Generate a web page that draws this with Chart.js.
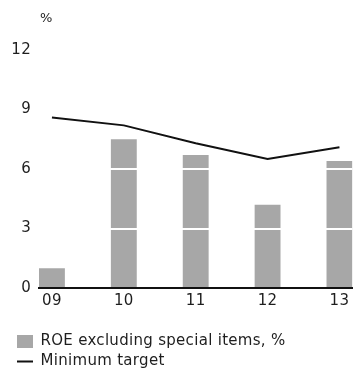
<!DOCTYPE html>
<html>
<head>
<meta charset="utf-8">
<script src="https://cdn.jsdelivr.net/npm/chart.js@4"></script>
<style>
  html, body { margin: 0; padding: 0; background: #fff; overflow: hidden; }
  #wrap { position: relative; width: 353px; height: 379px; }
</style>
</head>
<body>
<div id="wrap"><canvas id="c"></canvas></div>
<script>
// Years on the x axis and the two series plotted against them
const years = ['09', '10', '11', '12', '13'];
const roeExSpecial = [1.0, 7.5, 6.7, 4.2, 6.4];
const minimumTarget = [8.6, 8.2, 7.3, 6.5, 7.1];
const yTicks = [0, 3, 6, 9, 12];
const seriesNames = ['ROE excluding special items, %', 'Minimum target'];
const unitLabel = '%';

const FONT = 'DejaVu Sans';
const TEXT = '#1e1e1e';
const BAR = '#a7a7a7';
const LINE = '#111111';

const toPoints = arr => arr.map((v, i) => ({ x: i, y: v }));

// Slightly looser letter spacing for all chart text
const spacingPlugin = {
  id: 'letterSpacing',
  beforeDraw(chart) {
    chart.ctx.letterSpacing = '0.3px';
  }
};

// Small "%" caption above the value axis
const unitPlugin = {
  id: 'unitLabel',
  afterDraw(chart) {
    const { ctx, chartArea } = chart;
    ctx.save();
    ctx.font = `13px "${FONT}"`;
    ctx.fillStyle = TEXT;
    ctx.textAlign = 'left';
    ctx.textBaseline = 'middle';
    ctx.fillText(unitLabel, chartArea.left + 1, chartArea.top - 31);
    ctx.restore();
  }
};

new Chart(document.getElementById('c'), {
  type: 'bar',
  data: {
    datasets: [
      {
        type: 'line',
        label: seriesNames[1],
        data: toPoints(minimumTarget),
        borderColor: LINE,
        borderWidth: 2,
        pointRadius: 0,
        tension: 0,
        fill: false,
        order: 1
      },
      {
        type: 'bar',
        label: seriesNames[0],
        data: toPoints(roeExSpecial),
        backgroundColor: BAR,
        barPercentage: 0.36,
        categoryPercentage: 1,
        order: 2
      }
    ]
  },
  options: {
    responsive: true,
    maintainAspectRatio: false,
    animation: false,
    layout: { padding: { left: 12, top: 50, right: 0, bottom: 0 } },
    plugins: {
      tooltip: { enabled: false },
      legend: {
        position: 'bottom',
        align: 'start',
        labels: {
          font: { family: FONT, size: 15 },
          color: TEXT,
          padding: 5,
          usePointStyle: true,
          pointStyleWidth: 16,
          boxHeight: 13,
          generateLabels: () => [
            { text: seriesNames[0], fillStyle: BAR, strokeStyle: BAR, lineWidth: 0, pointStyle: 'rect', datasetIndex: 1, fontColor: TEXT },
            { text: seriesNames[1], fillStyle: LINE, strokeStyle: LINE, lineWidth: 2, pointStyle: 'line', datasetIndex: 0, fontColor: TEXT }
          ]
        }
      }
    },
    scales: {
      x: {
        type: 'linear',
        min: -0.18,
        max: 4.18,
        offset: false,
        afterBuildTicks: s => { s.ticks = years.map((_, i) => ({ value: i })); },
        afterFit: s => { s.height = 41; },
        ticks: {
          autoSkip: false,
          maxRotation: 0,
          padding: 4,
          font: { family: FONT, size: 15 },
          color: TEXT,
          callback: v => years[v]
        },
        grid: { display: false, drawTicks: false },
        border: { display: true, color: LINE, width: 2, z: 2 }
      },
      y: {
        min: 0,
        max: 12,
        afterBuildTicks: s => { s.ticks = yTicks.map(v => ({ value: v })); },
        afterFit: s => { s.width = 27; },
        ticks: {
          padding: 8,
          font: { family: FONT, size: 15 },
          color: TEXT
        },
        grid: {
          z: 1,
          color: c => (c.tick && c.tick.value === 0 ? 'rgba(0,0,0,0)' : '#ffffff'),
          lineWidth: 2,
          drawTicks: false
        },
        border: { display: false }
      }
    }
  },
  plugins: [spacingPlugin, unitPlugin]
});
</script>
</body>
</html>
